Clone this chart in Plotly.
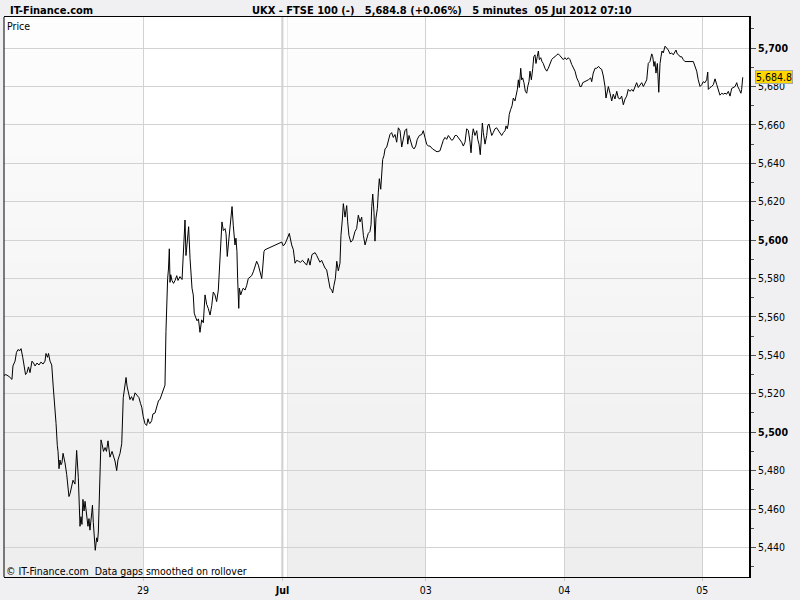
import plotly.graph_objects as go

# ---- data: (session time in trading days, price) ----
jun28 = [
    (0.005, 5529.5), (0.021, 5530), (0.043, 5529), (0.057, 5528), (0.064, 5527.5), (0.071, 5534.5), (0.086, 5537), (0.096, 5541.5), (0.107, 5543), (0.121, 5542.5),
    (0.129, 5543.5), (0.141, 5539), (0.150, 5534), (0.161, 5530), (0.171, 5531), (0.182, 5534), (0.193, 5531), (0.207, 5537), (0.218, 5536), (0.229, 5534.5),
    (0.243, 5536), (0.257, 5535), (0.271, 5536.5), (0.286, 5535.5), (0.300, 5537), (0.307, 5541), (0.318, 5539), (0.325, 5541), (0.336, 5537), (0.348, 5535),
    (0.359, 5523.5), (0.366, 5518), (0.379, 5504.5), (0.388, 5493), (0.393, 5490), (0.400, 5481), (0.407, 5485.5), (0.414, 5483), (0.421, 5484), (0.429, 5489),
    (0.436, 5487), (0.443, 5484), (0.455, 5478), (0.464, 5470), (0.471, 5466.5), (0.479, 5468), (0.491, 5471.5), (0.500, 5475), (0.514, 5473), (0.526, 5490.5),
    (0.538, 5476.5), (0.545, 5463), (0.550, 5451), (0.557, 5456), (0.564, 5452), (0.571, 5465), (0.579, 5459), (0.586, 5464), (0.598, 5457.5), (0.607, 5451),
    (0.614, 5455), (0.621, 5449), (0.634, 5458), (0.639, 5462), (0.645, 5453), (0.652, 5446), (0.659, 5438.5), (0.669, 5445), (0.675, 5443), (0.681, 5448),
    (0.693, 5478.5), (0.700, 5496), (0.707, 5494), (0.718, 5490), (0.729, 5492), (0.739, 5490), (0.750, 5495.5), (0.764, 5487), (0.779, 5490), (0.789, 5488),
    (0.800, 5485), (0.812, 5480), (0.821, 5485.5), (0.836, 5489), (0.848, 5494), (0.859, 5518), (0.871, 5526), (0.879, 5528.5), (0.886, 5524), (0.895, 5521.5),
    (0.907, 5517), (0.918, 5518.5), (0.929, 5516.5), (0.943, 5520.5), (0.957, 5519), (0.971, 5518), (0.982, 5515), (0.991, 5513),
]
jun29 = [
    (1.002, 5508), (1.014, 5504.5), (1.026, 5503.5), (1.036, 5507), (1.043, 5505), (1.050, 5504.5), (1.062, 5506), (1.071, 5509.5), (1.086, 5510), (1.098, 5513),
    (1.111, 5516.5), (1.121, 5517), (1.136, 5520), (1.145, 5522.5), (1.157, 5524.5), (1.164, 5552.5), (1.169, 5572.5), (1.176, 5580), (1.182, 5585), (1.188, 5595.5),
    (1.193, 5578), (1.198, 5582), (1.207, 5579), (1.218, 5577.5), (1.229, 5579), (1.241, 5581.5), (1.250, 5579), (1.264, 5581), (1.279, 5579.5), (1.284, 5587),
    (1.293, 5601), (1.300, 5610.5), (1.307, 5592), (1.316, 5599), (1.326, 5607), (1.336, 5590.5), (1.343, 5581), (1.350, 5575), (1.359, 5571.5), (1.366, 5562),
    (1.375, 5560), (1.386, 5558), (1.396, 5559), (1.407, 5552), (1.419, 5558.5), (1.431, 5557), (1.443, 5571.5), (1.455, 5566.5), (1.466, 5564.5), (1.479, 5561),
    (1.491, 5566), (1.502, 5573), (1.514, 5571.5), (1.526, 5568), (1.538, 5574), (1.545, 5582), (1.555, 5597.5), (1.564, 5609.5), (1.574, 5605), (1.586, 5606),
    (1.593, 5603.5), (1.602, 5591.5), (1.612, 5599.5), (1.621, 5608), (1.629, 5611), (1.636, 5617.5), (1.645, 5607.5), (1.657, 5597.5), (1.664, 5601), (1.671, 5594),
    (1.676, 5580), (1.684, 5564.5), (1.688, 5575), (1.698, 5571.5), (1.707, 5573.5), (1.716, 5575), (1.729, 5574), (1.741, 5576.5), (1.752, 5580), (1.764, 5581),
    (1.776, 5581.5), (1.788, 5583.5), (1.800, 5586), (1.812, 5589), (1.824, 5587), (1.831, 5584.5), (1.841, 5582), (1.848, 5580), (1.855, 5585.5), (1.864, 5594),
    (1.871, 5595),
]
jul02 = [
    (1.991, 5599), (2.002, 5597), (2.014, 5598), (2.026, 5600), (2.045, 5603.5), (2.062, 5597.5), (2.074, 5595), (2.086, 5588), (2.098, 5589.5), (2.111, 5589),
    (2.125, 5588.5), (2.139, 5589.5), (2.154, 5588.5), (2.169, 5587), (2.181, 5590.5), (2.193, 5587), (2.207, 5592.5), (2.218, 5593), (2.229, 5593.5), (2.241, 5592),
    (2.252, 5590), (2.264, 5588.5), (2.276, 5589.5), (2.288, 5587.5), (2.300, 5585.5), (2.312, 5584.5), (2.324, 5578.5), (2.336, 5575), (2.348, 5574), (2.355, 5572.5),
    (2.364, 5576.5), (2.374, 5580), (2.384, 5589), (2.395, 5584), (2.407, 5588), (2.414, 5602.5), (2.424, 5611), (2.431, 5619), (2.443, 5612), (2.455, 5618),
    (2.462, 5609.5), (2.471, 5602.5), (2.484, 5599), (2.498, 5600), (2.514, 5604.5), (2.526, 5606), (2.538, 5613), (2.550, 5609.5), (2.562, 5612), (2.574, 5602.5),
    (2.586, 5597.5), (2.598, 5601), (2.609, 5603.5), (2.621, 5604.5), (2.629, 5608), (2.634, 5617.5), (2.641, 5624), (2.650, 5614.5), (2.657, 5599.5), (2.664, 5611.5),
    (2.674, 5616.5), (2.681, 5625), (2.688, 5632), (2.698, 5626.5), (2.705, 5635.5), (2.712, 5642), (2.721, 5644), (2.729, 5647.5), (2.741, 5648.5), (2.752, 5651),
    (2.764, 5655), (2.776, 5656), (2.788, 5653.5), (2.800, 5655), (2.812, 5651), (2.824, 5658.5), (2.836, 5657), (2.848, 5648.5), (2.859, 5653.5), (2.871, 5657),
    (2.883, 5658), (2.891, 5650), (2.900, 5654.5), (2.912, 5651), (2.924, 5648.5), (2.936, 5647.5), (2.948, 5649), (2.959, 5652.5), (2.974, 5654.5), (2.991, 5655),
    (3.002, 5657), (3.014, 5653.5),
]
jul03 = [
    (3.026, 5650), (3.038, 5649), (3.050, 5649), (3.068, 5647.5), (3.086, 5646.5), (3.100, 5646), (3.121, 5646.5), (3.134, 5650), (3.145, 5652), (3.157, 5653.5),
    (3.169, 5652.5), (3.181, 5654.5), (3.193, 5653.5), (3.205, 5652), (3.216, 5652.5), (3.229, 5654.5), (3.241, 5654.5), (3.252, 5653.5), (3.264, 5652), (3.276, 5651),
    (3.288, 5649), (3.300, 5651), (3.312, 5658), (3.324, 5657), (3.336, 5651), (3.343, 5645.5), (3.352, 5654.5), (3.359, 5658), (3.371, 5654.5), (3.384, 5657),
    (3.391, 5652.5), (3.400, 5650), (3.409, 5644.5), (3.416, 5652.5), (3.424, 5661), (3.431, 5656), (3.443, 5650), (3.455, 5654.5), (3.462, 5659.5), (3.471, 5660.5),
    (3.481, 5658), (3.491, 5654.5), (3.502, 5656), (3.514, 5658), (3.526, 5658.5), (3.538, 5657), (3.550, 5656), (3.562, 5654.5), (3.574, 5656), (3.586, 5657),
    (3.593, 5659.5), (3.602, 5658), (3.609, 5660.5), (3.616, 5665.5), (3.626, 5668), (3.636, 5670), (3.645, 5674), (3.657, 5672.5), (3.664, 5675), (3.674, 5678.5),
    (3.681, 5683.5), (3.688, 5679.5), (3.698, 5689.5), (3.705, 5683.5), (3.712, 5684.5), (3.721, 5682), (3.731, 5677.5), (3.741, 5676.5), (3.748, 5680), (3.757, 5682.5),
    (3.764, 5688), (3.774, 5683.5), (3.784, 5689.5), (3.791, 5695.5), (3.800, 5696.5), (3.807, 5692), (3.816, 5695.5), (3.824, 5698.5), (3.831, 5694), (3.841, 5695),
    (3.850, 5693), (3.859, 5692), (3.871, 5689.5), (3.884, 5688), (3.895, 5689.5), (3.907, 5692), (3.919, 5694), (3.931, 5695), (3.943, 5695.5), (3.955, 5696.5),
    (3.966, 5697), (3.979, 5696), (3.991, 5695), (4.002, 5694),
]
jul04 = [
    (4.014, 5695), (4.026, 5694), (4.038, 5695), (4.050, 5694), (4.062, 5691.5), (4.074, 5689.5), (4.086, 5688), (4.098, 5684.5), (4.105, 5683.5), (4.114, 5682),
    (4.121, 5680), (4.131, 5680), (4.141, 5682), (4.157, 5682.5), (4.181, 5683.5), (4.198, 5684.5), (4.205, 5682.5), (4.216, 5687), (4.229, 5689.5), (4.241, 5689.5),
    (4.254, 5690.5), (4.264, 5689.5), (4.276, 5689), (4.288, 5685.5), (4.300, 5680), (4.307, 5674), (4.316, 5678.5), (4.324, 5680), (4.336, 5676.5), (4.348, 5672.5),
    (4.359, 5676), (4.371, 5673.5), (4.384, 5677.5), (4.395, 5674), (4.407, 5673.5), (4.419, 5675), (4.431, 5670.5), (4.443, 5673.5), (4.455, 5675), (4.466, 5678.5),
    (4.479, 5677.5), (4.491, 5678.5), (4.502, 5677.5), (4.514, 5679.5), (4.526, 5682), (4.538, 5679.5), (4.550, 5681), (4.562, 5682), (4.574, 5680), (4.586, 5682),
    (4.598, 5683.5), (4.609, 5692), (4.621, 5693), (4.634, 5697), (4.641, 5695.5), (4.650, 5690.5), (4.657, 5693), (4.664, 5687), (4.674, 5692), (4.684, 5677),
    (4.688, 5687), (4.693, 5692), (4.700, 5695.5), (4.707, 5698.5), (4.716, 5697.5), (4.729, 5701), (4.741, 5700), (4.752, 5699), (4.764, 5697), (4.776, 5697.5),
    (4.788, 5696.5), (4.800, 5698), (4.807, 5699), (4.816, 5697), (4.826, 5696.5), (4.836, 5695.5), (4.848, 5695.5), (4.859, 5694), (4.871, 5693), (4.931, 5693),
    (4.943, 5690.5), (4.955, 5688), (4.966, 5683.5), (4.979, 5680), (4.991, 5681),
]
jul05 = [
    (5.002, 5682.5), (5.014, 5682), (5.026, 5683.5), (5.034, 5687.5), (5.038, 5678.5), (5.050, 5679.5), (5.062, 5680), (5.074, 5681), (5.086, 5684), (5.098, 5681),
    (5.109, 5678.5), (5.121, 5675.5), (5.134, 5676.5), (5.145, 5676), (5.157, 5676.5), (5.169, 5676), (5.181, 5677.5), (5.193, 5675), (5.205, 5679), (5.216, 5679.5),
    (5.229, 5680), (5.241, 5682), (5.248, 5680), (5.259, 5678.5), (5.271, 5676.5), (5.276, 5678.5), (5.284, 5684.8),
]

day_starts = [1.0, 1.996, 3.019, 4.009, 4.995]
day_labels = ["29", "<b>Jul</b>", "03", "04", "05"]
jul_session_start = 2.032
shaded_days = [(0.0, 1.0), (2.032, 3.019), (4.009, 4.995)]
y_ticks = [5440, 5460, 5480, 5500, 5520, 5540, 5560, 5580, 5600, 5620, 5640, 5660, 5680, 5700]
y_minor = [5430, 5450, 5470, 5490, 5510, 5530, 5550, 5570, 5590, 5610, 5630, 5650, 5670, 5690, 5710]
x_range = [0.00714, 5.32857]
y_range = [5424.6, 5716.2]
last_price = 5684.8
header = "UKX - FTSE 100 (-)\u00a0\u00a0 5,684.8 (+0.06%)\u00a0\u00a0 5 minutes\u00a0 05 Jul 2012 07:10"

FONT = "DejaVu Sans Condensed, DejaVu Sans, sans-serif"

sessions = [jun28, jun29, jul02, jul03, jul04, jul05]
t = [p[0] for s in sessions for p in s]
price = [p[1] for s in sessions for p in s]

fig = go.Figure()
fig.add_trace(go.Scatter(x=t, y=price, mode="lines",
                         line=dict(color="#000000", width=1), hoverinfo="skip"))

shapes = []
# shaded trading days with a soft vertical gradient (stepped strips)
n_strips = 16
h = (y_range[1] - y_range[0]) / n_strips
for (a, b) in shaded_days:
    a = max(a, x_range[0])
    for k in range(n_strips):
        g = int(round(238 + (253 - 238) * k / (n_strips - 1)))
        shapes.append(dict(type="rect", xref="x", yref="y", x0=a, x1=b,
                           y0=y_range[0] + k * h, y1=y_range[0] + (k + 1) * h + 0.01,
                           fillcolor=f"rgb({g},{g},{g})", line=dict(width=0), layer="below"))
# month separator and Monday session start
shapes.append(dict(type="line", xref="x", yref="paper", x0=day_starts[1], x1=day_starts[1], y0=0, y1=1,
                   line=dict(color="#9A9A9A", width=1.5), layer="between"))
shapes.append(dict(type="line", xref="x", yref="paper", x0=jul_session_start, x1=jul_session_start, y0=0, y1=1,
                   line=dict(color="#D2D2D2", width=1), layer="between"))
# left border
shapes.append(dict(type="line", xref="paper", yref="paper", x0=0, x1=0, y0=0, y1=1,
                   line=dict(color="#000000", width=1), layer="above"))

ytext = [(f"<b>{v:,}</b>" if v % 100 == 0 else f"{v:,}") for v in y_ticks]

annotations = [
    dict(text="<b>IT-Finance.com</b>", xref="paper", yref="paper", x=(8 - 4) / 745, y=(581 - 10) / 564,
         xanchor="left", yanchor="middle", showarrow=False, font=dict(family=FONT, size=11, color="#000")),
    dict(text="<b>" + header + "</b>", xref="paper", yref="paper", x=(250 - 4) / 745, y=(581 - 10) / 564,
         xanchor="left", yanchor="middle", showarrow=False, font=dict(family=FONT, size=11, color="#000")),
    dict(text="Price", xref="paper", yref="paper", x=(5 - 4) / 745, y=(581 - 26) / 564,
         xanchor="left", yanchor="middle", showarrow=False, font=dict(family=FONT, size=10.5, color="#000")),
    dict(text="\u00a9 IT-Finance.com\u00a0 Data gaps smoothed on rollover", xref="paper", yref="paper",
         x=(4 - 4) / 745, y=(581 - 575) / 564, xanchor="left", yanchor="middle", showarrow=False,
         font=dict(family=FONT, size=10.5, color="#000")),
    dict(text=f"{last_price:,.1f}", xref="paper", yref="y", x=1, y=last_price, xshift=6,
         xanchor="left", yanchor="middle", showarrow=False, bgcolor="#FFD700",
         bordercolor="#A8A8A8", borderwidth=1, borderpad=0,
         font=dict(family=FONT, size=10.5, color="#000")),
]

fig.update_layout(
    width=800, height=600,
    margin=dict(l=4, r=51, t=17, b=19),
    paper_bgcolor="#F0F0F2", plot_bgcolor="#FFFFFF",
    showlegend=False,
    hovermode=False,
    shapes=shapes,
    annotations=annotations,
    xaxis=dict(range=x_range, tickmode="array", tickvals=day_starts, ticktext=day_labels,
               showgrid=True, gridcolor="#D2D2D2", gridwidth=1, zeroline=False,
               showline=True, linecolor="#000000", linewidth=1, mirror=True,
               ticks="outside", ticklen=3, tickcolor="#C8C8C8",
               tickfont=dict(family=FONT, size=10.5, color="#000")),
    yaxis=dict(side="right", range=y_range, tickmode="array", tickvals=y_ticks, ticktext=ytext,
               showgrid=True, gridcolor="#D2D2D2", gridwidth=1, zeroline=False,
               showline=True, linecolor="#000000", linewidth=2, mirror=False,
               ticks="outside", ticklen=5, tickcolor="#505050",
               minor=dict(tickmode="array", tickvals=y_minor, ticks="outside", ticklen=3,
                          tickcolor="#505050", showgrid=False),
               tickfont=dict(family=FONT, size=10.5, color="#000")),
)

fig.write_html("out.html", config={"displayModeBar": False, "staticPlot": True},
               post_script="document.body.style.margin='0';document.body.style.overflow='hidden';")
